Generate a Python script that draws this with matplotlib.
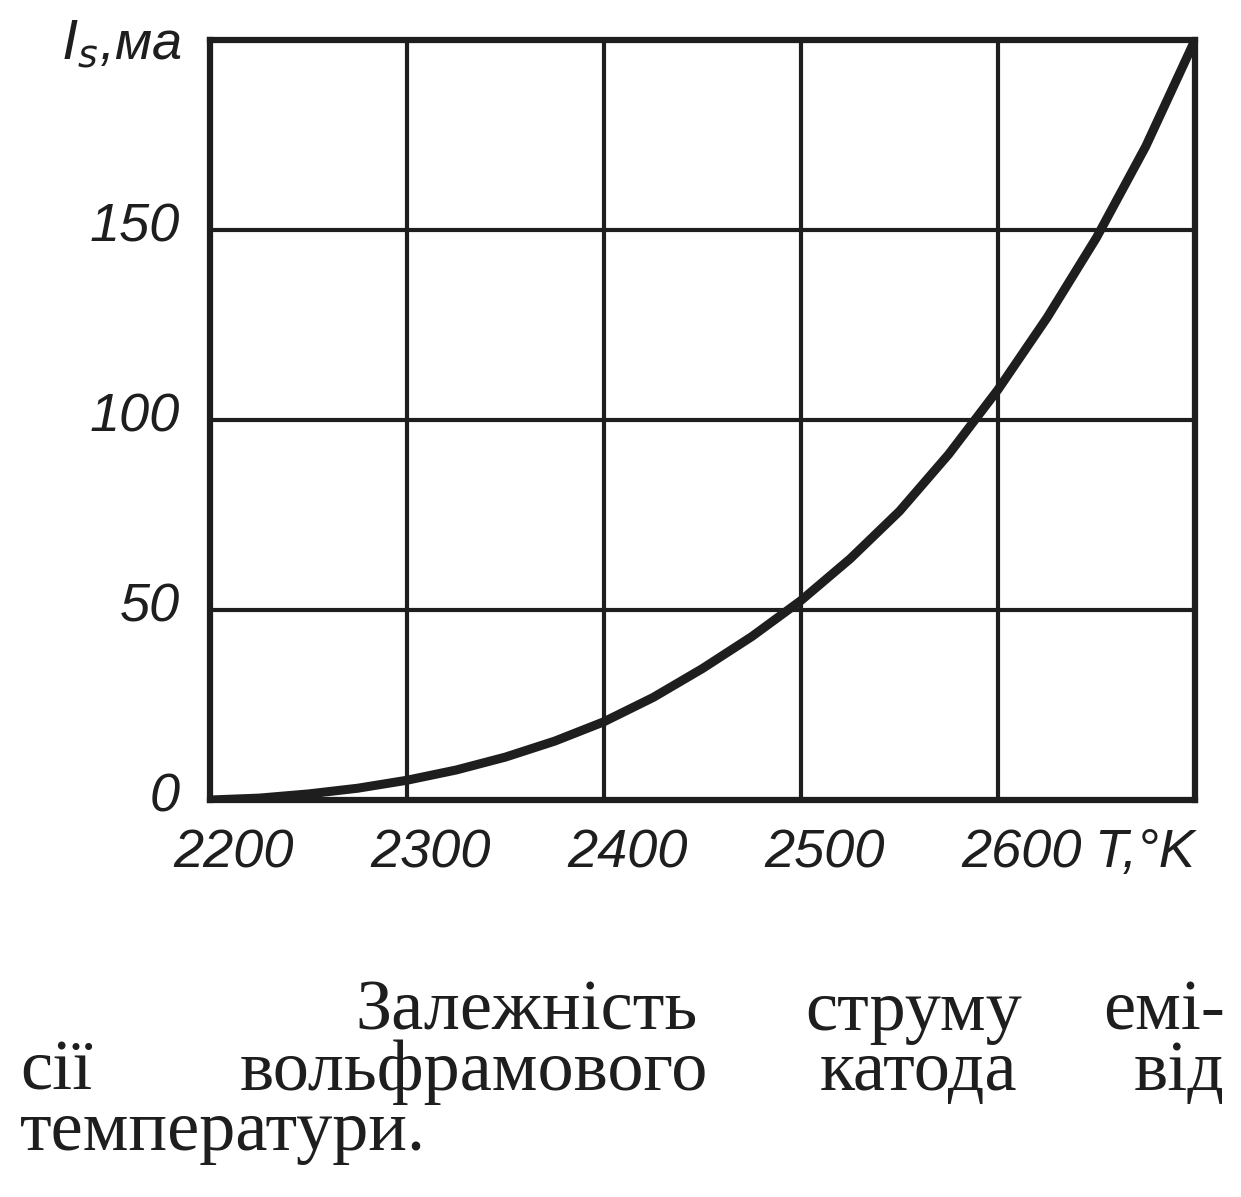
import matplotlib
matplotlib.use("Agg")
import matplotlib.pyplot as plt

# Data
temperature_K = [2200, 2225, 2250, 2275, 2300, 2325, 2350, 2375, 2400, 2425, 2450,
                 2475, 2500, 2525, 2550, 2575, 2600, 2625, 2650, 2675, 2700]
current_mA = [0, 0.5, 1.6, 3.1, 5.2, 7.9, 11.3, 15.5, 20.6, 27, 34.6,
              43, 52.5, 63.5, 76, 91, 108, 127, 148, 172, 200]
x_ticks = [2200, 2300, 2400, 2500, 2600]
x_tick_labels = ["2200", "2300", "2400", "2500", "2600"]
y_ticks = [0, 50, 100, 150]
y_tick_labels = ["0", "50", "100", "150"]
x_grid = [2300, 2400, 2500, 2600]
y_grid = [50, 100, 150]
y_label = "$I_s$,ма"
x_label = "T,°K"
caption_line1 = ["Залежність", "струму", "емі-"]
caption_line2 = ["сії", "вольфрамового", "катода", "від"]
caption_line3 = ["температури."]

W, H = 1241, 1197
fig = plt.figure(figsize=(W / 100, H / 100), dpi=100)
fig.patch.set_facecolor("white")

ax = fig.add_axes([210 / W, 1 - 800 / H, (1195 - 210) / W, (800 - 40) / H])
ax.set_xlim(2200, 2700)
ax.set_ylim(0, 200)

ink = "#1e1e1e"
for xv in x_grid:
    ax.axvline(xv, color=ink, lw=3.0, zorder=1)
for yv in y_grid:
    ax.axhline(yv, color=ink, lw=3.0, zorder=1)
for s in ax.spines.values():
    s.set_linewidth(4.5)
    s.set_color(ink)

ax.plot(temperature_K, current_mA, color=ink, lw=6.5, solid_capstyle="round",
        solid_joinstyle="round", zorder=3)

ax.set_xticks(x_ticks)
ax.set_xticklabels([])
ax.set_yticks(y_ticks)
ax.set_yticklabels([])
ax.tick_params(length=0)

tick_font = dict(family="Liberation Sans", style="italic", fontsize=39, color=ink)
for xv, lab in zip(x_ticks, x_tick_labels):
    ax.annotate(lab, xy=(xv, 0), xycoords="data", xytext=(24, -28),
                textcoords="offset pixels", ha="center", va="top", **tick_font)
for yv, lab in zip(y_ticks, y_tick_labels):
    ax.annotate(lab, xy=(2200, yv), xycoords="data", xytext=(-30, 2),
                textcoords="offset pixels", ha="right", va="center", **tick_font)

ax.annotate(y_label, xy=(2200, 200), xycoords="data", xytext=(-28, -4),
            textcoords="offset pixels", ha="right", va="center",
            family="Liberation Sans", style="italic", fontsize=39, color=ink)
ax.annotate(x_label, xy=(2700, 0), xycoords="data", xytext=(-50, -28),
            textcoords="offset pixels", ha="center", va="top",
            family="Liberation Sans", style="italic", fontsize=39, color=ink)

cap_font = dict(family="Liberation Serif", fontsize=52, color=ink, va="baseline")


def put(word, x, y, ha="left"):
    fig.text(x / W, 1 - y / H, word, ha=ha, **cap_font)


put(caption_line1[0], 355, 1030)
put(caption_line1[1], 805, 1030)
put(caption_line1[2], 1225, 1030, ha="right")
put(caption_line2[0], 20, 1090)
put(caption_line2[1], 240, 1090)
put(caption_line2[2], 820, 1090)
put(caption_line2[3], 1225, 1090, ha="right")
put(caption_line3[0], 20, 1150)

fig.savefig("out.png", dpi=100, facecolor="white")
